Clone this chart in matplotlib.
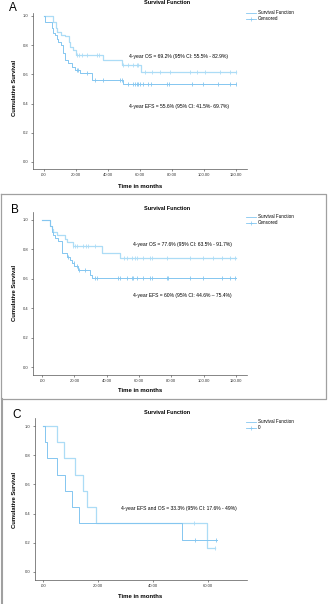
import matplotlib
matplotlib.use('Agg')
import matplotlib.pyplot as plt
from matplotlib.lines import Line2D

plt.rcParams['font.family'] = ['Liberation Sans', 'DejaVu Sans']

# ---- panel A : survival data (time in months, cumulative survival)
a_os_t = [0, 5.5, 7.5, 8.5, 11, 13, 15.5, 16.5, 18.5, 20, 37, 48.7, 60.8, 120]
a_os_s = [1.0, 0.96, 0.92, 0.89, 0.87, 0.86, 0.82, 0.79, 0.77, 0.73, 0.70, 0.664, 0.616, 0.616]
a_os_cens = [20.6, 22.3, 24, 27.3, 33.1, 34.8, 49.8, 52.9, 56, 58.1, 59.1,
             63.3, 67.5, 72.7, 79, 91.4, 95.6, 100.8, 110.2, 116.4, 120]
a_efs_t = [0, 1, 5, 6, 7, 8, 9, 11, 12.3, 13, 15.4, 17.5, 19.6, 22.5, 30, 49.5, 120]
a_efs_s = [1.0, 0.96, 0.92, 0.88, 0.87, 0.84, 0.82, 0.80, 0.745, 0.70, 0.68, 0.65, 0.63, 0.61, 0.56, 0.534, 0.534]
a_efs_cens = [20.6, 21.6, 26.9, 32, 37.3, 47.7, 48.7, 52.9, 56, 57, 58.1, 59.1, 60.2,
              62.3, 65.4, 67, 77, 78, 92.5, 99.8, 109.1, 116.4, 120]

# ---- panel B
b_os_t = [0, 5, 6, 7, 9, 14.5, 15.2, 19.4, 36.9, 48.2, 120]
b_os_s = [1.0, 0.96, 0.94, 0.92, 0.898, 0.87, 0.853, 0.823, 0.778, 0.739, 0.739]
b_os_cens = [19.4, 20.4, 21.8, 25.5, 27.2, 28.6, 32.8, 50.5, 52.4, 55.5, 57.5, 58.6,
             62.7, 66.8, 67.8, 77.1, 91.5, 99.8, 106, 111.1, 116.3, 119.4]
b_efs_t = [0, 5, 6, 7, 8, 10, 12.6, 15.5, 17, 18.3, 20, 22.5, 29.7, 30.7, 120]
b_efs_s = [1.0, 0.96, 0.92, 0.90, 0.88, 0.86, 0.773, 0.75, 0.73, 0.705, 0.685, 0.66, 0.626, 0.603, 0.603]
b_efs_cens = [16.3, 19.8, 21.4, 22.9, 26.6, 32.7, 33.7, 47.2, 48.2, 52.4, 55.5, 56.5, 58.6,
              62.7, 66.8, 67.8, 77.1, 78.1, 91.5, 99.8, 111.1, 116.3, 119.4]

# ---- panel C
c_os_t = [0, 5.2, 7.6, 11.6, 14.7, 15.9, 19.2, 59.8, 62.6]
c_os_s = [1.0, 0.889, 0.778, 0.667, 0.556, 0.444, 0.333, 0.167, 0.167]
c_os_cens = [54.9, 62.6]
c_efs_t = [0, 0.7, 1.3, 5.0, 8.0, 10.4, 13.2, 50.4, 63.2]
c_efs_s = [1.0, 0.889, 0.778, 0.667, 0.556, 0.444, 0.333, 0.222, 0.222]
c_efs_cens = [55.2, 63.0]

a_xticks = [0, 20, 40, 60, 80, 100, 120]
c_xticks = [0, 20, 40, 60]
yticks = [0.0, 0.2, 0.4, 0.6, 0.8, 1.0]

os_col = '#acdcf6'
efs_col = '#84c6f0'

W, H = 328, 604
fig = plt.figure(figsize=(W / 100, H / 100), dpi=100)


def px_axes(l, t, r, b):
    return fig.add_axes([l / W, 1 - b / H, (r - l) / W, (b - t) / H])


def fmt_x(v):
    return '.00' if v == 0 else '%.2f' % v


def km(ax, t, s, cens, col, lw):
    ax.step(t, s, where='post', color=col, lw=lw)
    cy = []
    for c in cens:
        i = max(k for k in range(len(t)) if t[k] <= c)
        cy.append(s[i])
    ax.plot(cens, cy, ls='none', marker='|', ms=2.2, mew=0.6, color=col)


def style(ax, xlim, ylim, xticks):
    ax.set_xlim(*xlim)
    ax.set_ylim(*ylim)
    ax.set_xticks(xticks)
    ax.set_xticklabels([fmt_x(v) for v in xticks])
    ax.set_yticks(yticks)
    ax.set_yticklabels(['%.1f' % v for v in yticks])
    ax.tick_params(labelsize=3.0, length=1.5, width=0.4, pad=1.5, colors='#333333')
    for sp in ['top', 'right']:
        ax.spines[sp].set_visible(False)
    for sp in ['left', 'bottom']:
        ax.spines[sp].set_linewidth(0.5)
        ax.spines[sp].set_color('#555555')


def legend(x, y, second):
    h = [Line2D([], [], color=efs_col, lw=0.6),
         Line2D([], [], color=efs_col, lw=0.6, marker='+', ms=3, mew=0.5)]
    fig.legend(h, ['Survival Function', second], loc='upper left',
               bbox_to_anchor=(x / W, 1 - y / H), fontsize=3.3, frameon=False,
               handlelength=2.2, handletextpad=0.4, labelspacing=0.25, borderpad=0)


def labels(cx, ty, xl_y, yl_x, yl_y, letter, lx, ly):
    fig.text(cx / W, 1 - ty / H, 'Survival Function', ha='center', va='center',
             fontsize=4, fontweight='bold')
    fig.text(140 / W, 1 - xl_y / H, 'Time in months', ha='center', va='center',
             fontsize=4.3, fontweight='bold')
    fig.text(yl_x / W, 1 - yl_y / H, 'Cumulative Survival', ha='center', va='center',
             rotation=90, fontsize=4.2, fontweight='bold')
    fig.text(lx / W, 1 - ly / H, letter, ha='center', va='center', fontsize=8.5)


# panel A
ax = px_axes(33, 13, 247, 169)
km(ax, a_os_t, a_os_s, a_os_cens, os_col, 0.9)
km(ax, a_efs_t, a_efs_s, a_efs_cens, efs_col, 0.7)
style(ax, (-6.7, 127), (-0.048, 1.02), a_xticks)
ax.text(0.68, 0.72, '4-year OS = 69.2% (95% CI: 55.5% - 82.9%)', transform=ax.transAxes,
        ha='center', va='center', fontsize=3.6)
ax.text(0.68, 0.40, '4-year EFS = 55.6% (95% CI: 41.5%- 69.7%)', transform=ax.transAxes,
        ha='center', va='center', fontsize=3.6)
labels(167, 3, 186, 15, 88, 'A', 13, 8)
legend(244, 8, 'Censored')

# panel B
ax = px_axes(33, 212, 247, 375)
km(ax, b_os_t, b_os_s, b_os_cens, os_col, 0.9)
km(ax, b_efs_t, b_efs_s, b_efs_cens, efs_col, 0.7)
style(ax, (-5.6, 126.8), (-0.054, 1.054), a_xticks)
ax.text(0.70, 0.80, '4-year OS = 77.6% (95% CI: 63.5% - 91.7%)', transform=ax.transAxes,
        ha='center', va='center', fontsize=3.6)
ax.text(0.70, 0.49, '4-year EFS = 60% (95% CI: 44.6% \u2013 75.4%)', transform=ax.transAxes,
        ha='center', va='center', fontsize=3.6)
labels(167, 208, 390, 15, 293, 'B', 15, 210)
legend(244, 212, 'Censored')

# panel C
ax = px_axes(35, 418, 247, 580)
km(ax, c_os_t, c_os_s, c_os_cens, os_col, 0.9)
km(ax, c_efs_t, c_efs_s, c_efs_cens, efs_col, 0.7)
style(ax, (-2.9, 74.2), (-0.055, 1.055), c_xticks)
ax.text(0.68, 0.44, '4-year EFS and OS = 33.3% (95% CI: 17.6% - 49%)', transform=ax.transAxes,
        ha='center', va='center', fontsize=3.6)
labels(167, 412, 596, 15, 500, 'C', 17, 415)
legend(244, 417, '0')

# frames around panels
box = '#a0a0a0'
fig.add_artist(Line2D([0.5 / W, 326 / W, 326 / W, 0.5 / W, 0.5 / W],
                      [1 - 194 / H, 1 - 194 / H, 1 - 399 / H, 1 - 399 / H, 1 - 194 / H],
                      color=box, lw=0.9))
fig.add_artist(Line2D([2 / W, 2 / W], [1 - 399 / H, 0], color=box, lw=1.5))

fig.savefig('out.png', dpi=100)
